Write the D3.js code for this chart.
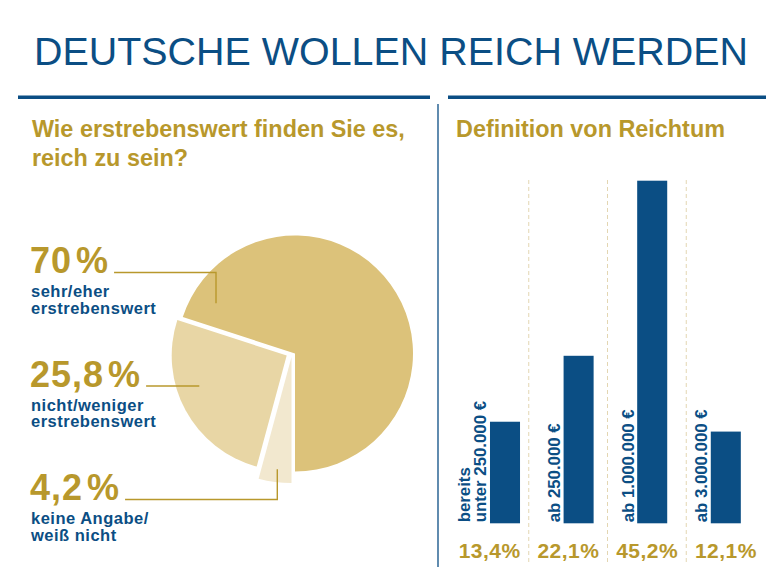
<!DOCTYPE html>
<html><head><meta charset="utf-8">
<script src="https://cdn.jsdelivr.net/npm/d3@7"></script>
<style>
body{margin:0;background:#fff;}
svg{display:block;font-family:"Liberation Sans",Arial,Helvetica,sans-serif;}
</style>
</head><body>
<svg id="c" width="780" height="574"></svg>
<script>
// ---------- DATA ----------
const title = "DEUTSCHE WOLLEN REICH WERDEN";
const pieQuestion = ["Wie erstrebenswert finden Sie es,", "reich zu sein?"];
const pieValues = [70, 25.8, 4.2];
const pieValueLabels = ["70", "25,8", "4,2"];
const pieCategories = [["sehr/eher", "erstrebenswert"], ["nicht/weniger", "erstrebenswert"], ["keine Angabe/", "weiß nicht"]];
const barTitle = "Definition von Reichtum";
const barCategories = [["bereits", "unter 250.000 €"], ["ab 250.000 €"], ["ab 1.000.000 €"], ["ab 3.000.000 €"]];
const barValues = [13.4, 22.1, 45.2, 12.1];
const barValueLabels = ["13,4%", "22,1%", "45,2%", "12,1%"];

// ---------- STYLE ----------
const BLUE = "#0b4e84", GOLD = "#b8982c", DASH = "#e3d6b2";
const svg = d3.select("#c");

// Title
svg.append("text").attr("x", 34).attr("y", 65)
  .attr("font-size", 38.5).attr("fill", BLUE)
  .attr("textLength", 714).attr("lengthAdjust", "spacingAndGlyphs")
  .text(title);

// Rules
svg.append("rect").attr("x", 18).attr("y", 95.5).attr("width", 412).attr("height", 3.5).attr("fill", BLUE);
svg.append("rect").attr("x", 448).attr("y", 95.5).attr("width", 318).attr("height", 3.5).attr("fill", BLUE);
svg.append("line").attr("x1", 438).attr("x2", 438).attr("y1", 104).attr("y2", 567)
  .attr("stroke", BLUE).attr("stroke-width", 1.3);

// Headings
const q = svg.append("text").attr("x", 32).attr("font-size", 23.4).attr("font-weight", "bold").attr("fill", GOLD);
pieQuestion.forEach((t, i) => q.append("tspan").attr("x", 32).attr("y", 137 + i * 28.5).text(t));
svg.append("text").attr("x", 456).attr("y", 137).attr("font-size", 23.4).attr("font-weight", "bold")
  .attr("fill", GOLD).text(barTitle);

// ---------- PIE ----------
const cx = 295, cy = 353.5;
const pie = d3.pie().sort(null).startAngle(3 * Math.PI).endAngle(Math.PI);
const arcs = pie(pieValues);
const sliceStyle = [
  { fill: "#dcc27a", r: 118, dx: 0, dy: 0, anchor: [-79, -50.2] },
  { fill: "#e8d6a5", r: 115, dx: -8.3, dy: 2.1, anchor: [-95.7, 32.5] },
  { fill: "#f2e8cf", r: 126, dx: -3.5, dy: 3.5, anchor: [-17.7, 115.8] }
];
const pg = svg.append("g").attr("transform", `translate(${cx},${cy})`);
pg.selectAll("path").data(arcs).join("path")
  .attr("d", (d, i) => d3.arc().innerRadius(0).outerRadius(sliceStyle[i].r)({
    startAngle: Math.min(d.startAngle, d.endAngle), endAngle: Math.max(d.startAngle, d.endAngle)
  }))
  .attr("transform", (d, i) => `translate(${sliceStyle[i].dx},${sliceStyle[i].dy})`)
  .attr("fill", (d, i) => sliceStyle[i].fill);

// Pie labels
const labelY = [273, 386.5, 500];
pieValues.forEach((v, i) => {
  const t = svg.append("text").attr("x", 30).attr("y", labelY[i])
    .attr("font-size", 36).attr("font-weight", "bold").attr("fill", GOLD)
    .attr("letter-spacing", 1);
  t.append("tspan").text(pieValueLabels[i]);
  t.append("tspan").attr("dx", 4).text("%");
  const w = t.node().getBBox();
  const ex = w.x + w.width + 5;
  const a = sliceStyle[i].anchor;
  const pts = [[ex, labelY[i] - 0.5], [cx + a[0], labelY[i] - 0.5], [cx + a[0], cy + a[1]]];
  svg.append("path").attr("d", d3.line()(pts)).attr("fill", "none")
    .attr("stroke", GOLD).attr("stroke-width", 1.4);
  pieCategories[i].forEach((line, j) => {
    svg.append("text").attr("x", 31).attr("y", labelY[i] + 24 + j * 16.6)
      .attr("font-size", 16.5).attr("font-weight", "bold").attr("fill", BLUE)
      .attr("letter-spacing", 0.5).text(line);
  });
});

// ---------- BARS ----------
const idx = d3.range(barValues.length);
const x = d3.scaleBand().domain(idx).range([468.2, 762.6]).paddingInner(0.592).paddingOuter(0.296);
const y = d3.scaleLinear().domain([0, d3.max(barValues)]).range([523.3, 180.7]);
const sec = d3.scaleBand().domain(idx).range([450, 765]);

// dashed separators
svg.selectAll("line.sep").data(idx.slice(1)).join("line").attr("class", "sep")
  .attr("x1", i => sec(i)).attr("x2", i => sec(i))
  .attr("y1", 180).attr("y2", 564)
  .attr("stroke", DASH).attr("stroke-width", 1).attr("stroke-dasharray", "4,3");

svg.selectAll("rect.bar").data(barValues).join("rect").attr("class", "bar")
  .attr("x", (d, i) => x(i)).attr("width", x.bandwidth())
  .attr("y", d => y(d)).attr("height", d => y(0) - y(d))
  .attr("fill", BLUE);

// rotated category labels
barCategories.forEach((lines, i) => {
  const bx = x(i) - 3.5;
  lines.forEach((line, j) => {
    const off = (lines.length - 1 - j) * 16;
    svg.append("text")
      .attr("transform", `translate(${bx - off},${y(0) - 1}) rotate(-90)`)
      .attr("font-size", 16.8).attr("font-weight", "bold").attr("fill", BLUE)
      .text(line);
  });
});

// value labels
svg.selectAll("text.val").data(barValueLabels).join("text").attr("class", "val")
  .attr("x", (d, i) => sec(i) + sec.bandwidth() / 2 + 0.3)
  .attr("y", 558.3).attr("text-anchor", "middle")
  .attr("font-size", 21).attr("font-weight", "bold").attr("fill", GOLD)
  .attr("letter-spacing", 0.5).text(d => d);
</script>
</body></html>
